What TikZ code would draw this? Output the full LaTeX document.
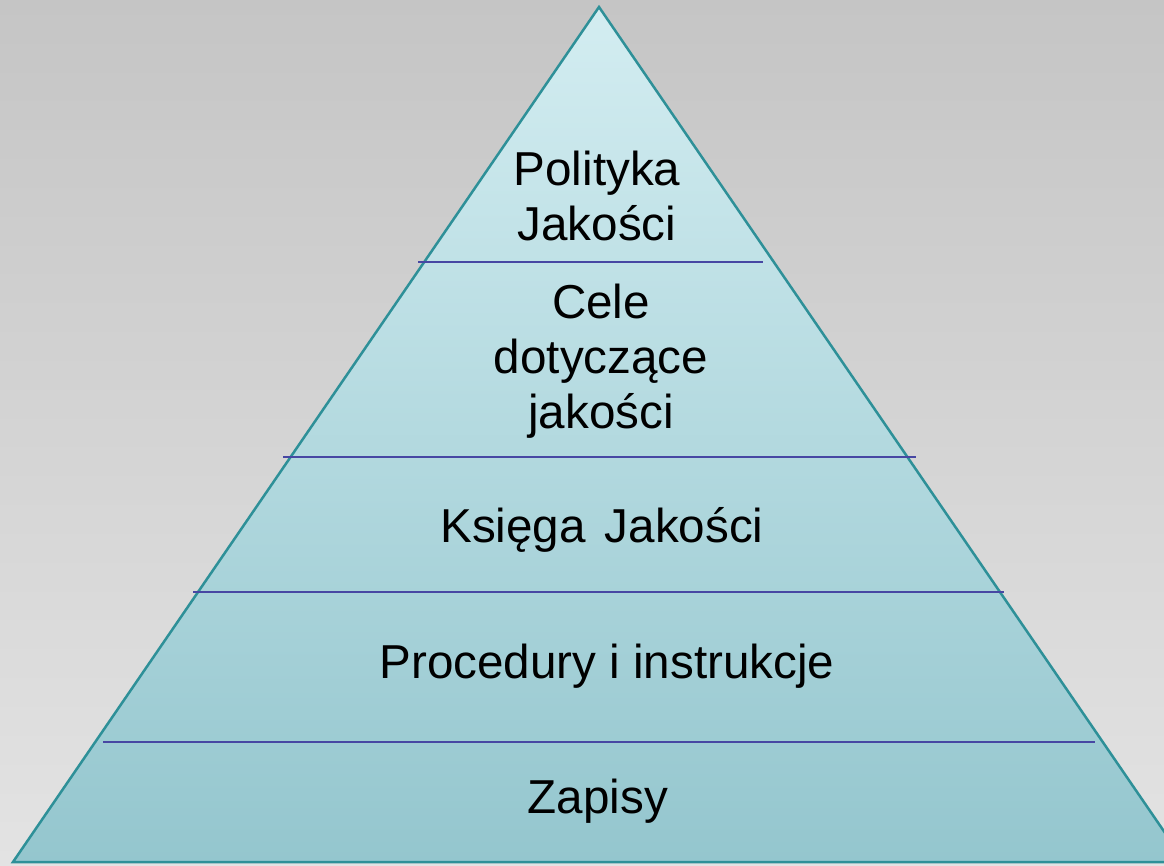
\documentclass[tikz,border=0pt]{standalone}
\usepackage{fontspec}
\setmainfont{Liberation Sans}
\definecolor{bgtop}{HTML}{C5C5C5}
\definecolor{bgbot}{HTML}{E3E3E3}
\definecolor{tritop}{HTML}{D3EDF1}
\definecolor{tribot}{HTML}{94C6CE}
\definecolor{triedge}{HTML}{2E9098}
\definecolor{divline}{HTML}{4747A3}
\tikzset{
  lvl/.style={font=\fontsize{47.6}{55}\selectfont, align=center, anchor=base, inner sep=0pt, text=black},
  divider/.style={draw=divline, line width=2.2pt},
}
\begin{document}
\begin{tikzpicture}[x=1pt,y=-1pt]
\useasboundingbox (0,0) rectangle (1164,865);
\clip (0,0) rectangle (1164,865);
\shade[top color=bgtop, bottom color=bgbot] (0,0) rectangle (1164,865);
\coordinate (apex) at (599,7);
\coordinate (bl) at (13,862);
\coordinate (br) at (1185,862);
\shade[top color=tritop, bottom color=tribot] (apex) -- (bl) -- (br) -- cycle;
\draw[triedge, line width=2.5pt, line join=miter] (apex) -- (bl) -- (br) -- cycle;
% dividers
\coordinate (d1l) at (418,262); \coordinate (d1r) at (763,262);
\coordinate (d2l) at (283,457); \coordinate (d2r) at (916,457);
\coordinate (d3l) at (193,592); \coordinate (d3r) at (1004,592);
\coordinate (d4l) at (103,742); \coordinate (d4r) at (1095,742);
\draw[divider] (d1l) -- (d1r);
\draw[divider] (d2l) -- (d2r);
\draw[divider] (d3l) -- (d3r);
\draw[divider] (d4l) -- (d4r);
% texts (anchor base = baseline of last line)
\node[lvl] (polityka) at (597,240) {Polityka\\Jakości};
\node[lvl] (cele) at (601,428) {Cele\\dotyczące\\jakości};
\node[lvl] (ksiega) at (602,542) {Księga\hspace{0.4em}Jakości};
\node[lvl] (procedury) at (607,678) {Procedury i instrukcje};
\node[lvl] (zapisy) at (598,813) {Zapisy};
\end{tikzpicture}
\end{document}
